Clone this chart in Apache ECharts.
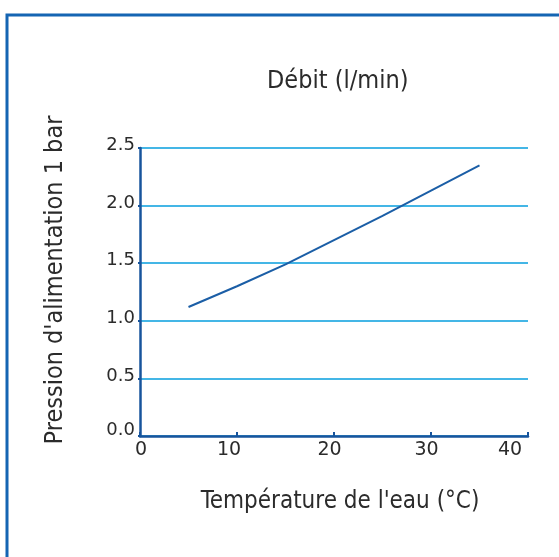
<!DOCTYPE html>
<html>
<head>
<meta charset="utf-8">
<script src="https://cdn.jsdelivr.net/npm/echarts@6/dist/echarts.min.js"></script>
<style>html,body{margin:0;padding:0;background:#fff}#c{width:559px;height:557px}</style>
</head>
<body>
<div id="c"></div>
<script>
const titleText = 'Débit (l/min)';
const xAxisTitle = "Température de l'eau (°C)";
const yAxisTitle = "Pression d'alimentation 1 bar";
const temperatures = [5, 10, 15, 20, 25, 30, 35];
const pressures = [1.12, 1.30, 1.49, 1.70, 1.91, 2.13, 2.35];
const xTicks = [0, 10, 20, 30, 40];
const yTicks = [0, 0.5, 1.0, 1.5, 2.0, 2.5];

const FONT = '"DejaVu Sans Condensed", "Liberation Sans Narrow", "DejaVu Sans", sans-serif';
const NUMFONT = '"DejaVu Sans", sans-serif';
const TXT = '#2b2b2b';
const AXIS = '#17549c';
const GRID = '#44b6e6';
const LINE = '#1b5ea6';

const chart = echarts.init(document.getElementById('c'));
chart.setOption({
  animation: false,
  title: {
    text: titleText,
    left: 262, top: 64,
    textStyle: { fontFamily: FONT, fontSize: 25, fontWeight: 'normal', color: TXT }
  },
  graphic: [{
    type: 'rect', silent: true, z: -1,
    shape: { x: 7, y: 15, width: 800, height: 800 },
    style: { fill: 'none', stroke: '#1565b3', lineWidth: 3 }
  }],
  grid: { left: 140, right: 31, top: 148, bottom: 121, containLabel: false },
  xAxis: {
    type: 'value', min: xTicks[0], max: xTicks[xTicks.length - 1], interval: 10,
    name: xAxisTitle, nameLocation: 'middle', nameGap: 54,
    nameTextStyle: { fontFamily: FONT, fontSize: 24, color: TXT, padding: [0, 0, 0, 12] },
    axisLine: { show: true, lineStyle: { color: AXIS, width: 2.5 } },
    axisTick: { show: true, inside: true, length: 4, lineStyle: { color: AXIS, width: 2 } },
    splitLine: { show: false },
    axisLabel: {
      margin: 5,
      formatter: (v, i) => '{l' + i + '|' + v + '}',
      rich: {
        l0: { fontFamily: NUMFONT, fontSize: 19, color: TXT, padding: [0, 0, 0, 2] },
        l1: { fontFamily: NUMFONT, fontSize: 19, color: TXT, padding: [0, 16, 0, 0] },
        l2: { fontFamily: NUMFONT, fontSize: 19, color: TXT, padding: [0, 9, 0, 0] },
        l3: { fontFamily: NUMFONT, fontSize: 19, color: TXT, padding: [0, 9, 0, 0] },
        l4: { fontFamily: NUMFONT, fontSize: 19, color: TXT, padding: [0, 36, 3, 0] }
      }
    }
  },
  yAxis: {
    type: 'value', min: yTicks[0], max: yTicks[yTicks.length - 1], interval: 0.5,
    name: yAxisTitle, nameLocation: 'middle', nameGap: 72, nameRotate: 90,
    nameTextStyle: { fontFamily: FONT, fontSize: 25, color: TXT, padding: [0, 0, 0, 24] },
    axisLine: { show: true, lineStyle: { color: AXIS, width: 2.5 } },
    axisTick: { show: true, length: 2, lineStyle: { color: AXIS, width: 2 } },
    splitLine: { show: true, lineStyle: { color: GRID, width: 2 } },
    axisLabel: {
      margin: 5,
      formatter: (v, i) => (i === 0 ? '{b|' : '{a|') + v.toFixed(1) + '}',
      rich: {
        a: { fontFamily: NUMFONT, fontSize: 18, color: TXT, padding: [0, 0, 5, 0] },
        b: { fontFamily: NUMFONT, fontSize: 18, color: TXT, padding: [0, 0, 12, 0] }
      }
    }
  },
  series: [{
    type: 'line',
    data: temperatures.map((t, i) => [t, pressures[i]]),
    showSymbol: false, symbol: 'none',
    lineStyle: { color: LINE, width: 2 },
    z: 3
  }]
});
</script>
</body>
</html>
